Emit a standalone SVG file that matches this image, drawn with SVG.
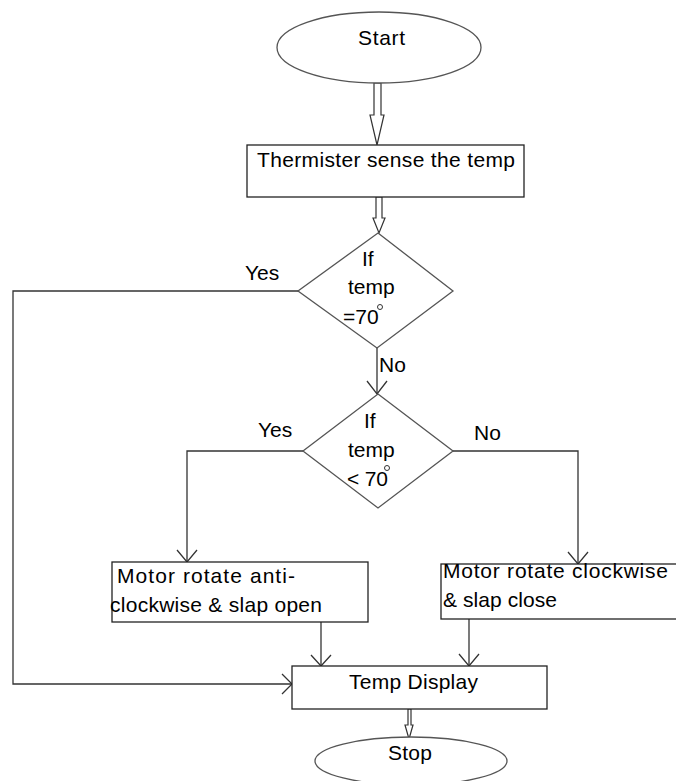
<svg xmlns="http://www.w3.org/2000/svg" width="676" height="781" viewBox="0 0 676 781">
<style>
.shape{fill:#fff;stroke:#555;stroke-width:1.3}
.box{fill:#fff;stroke:#222;stroke-width:1.3}
.line{fill:none;stroke:#333;stroke-width:1.3}
.hollow{fill:#fff;stroke:#333;stroke-width:1.2}
text{font-family:"Liberation Sans",Arial,sans-serif;font-size:21px;fill:#000}
</style>
<rect width="676" height="781" fill="#fff"/>
<g id="connectors">
<polygon class="hollow" points="374,83 381,83 381,115 384,115 377,145 370,115 374,115"/>
<polygon class="hollow" points="376,197 382,197 382,218 385,218 379,233 373,218 376,218"/>
<polygon class="hollow" points="408,709 411,709 411,725 413,725 409,739 405,725 408,725"/>
<polyline class="line" points="298,291 13,291 13,684 292,684"/>
<polyline class="line" points="282,674 292,684 282,694"/>
<line class="line" x1="377" y1="348" x2="377" y2="394"/>
<polyline class="line" points="367,381 377,394 387,381"/>
<polyline class="line" points="303,451 187,451 187,562"/>
<polyline class="line" points="177,550 187,562 197,550"/>
<polyline class="line" points="453,451 578,451 578,564"/>
<polyline class="line" points="568,552 578,564 588,552"/>
<line class="line" x1="321" y1="622" x2="321" y2="666"/>
<polyline class="line" points="311,655 321,666 331,655"/>
<line class="line" x1="469" y1="619" x2="469" y2="666"/>
<polyline class="line" points="459,654 469,666 479,654"/>
<text x="245" y="280">Yes</text>
<text x="379" y="372">No</text>
<text x="258" y="437">Yes</text>
<text x="474" y="440">No</text>
</g>
<g id="start">
<ellipse class="shape" cx="379" cy="47.5" rx="102" ry="35.5"/>
<text x="358" y="45" textLength="47">Start</text>
</g>
<g id="thermister">
<rect class="box" x="247" y="145" width="277" height="52"/>
<text x="257" y="167" textLength="258">Thermister sense the temp</text>
</g>
<g id="decision1">
<polygon class="shape" points="378,233 453,291 377,348 298,291"/>
<text x="362" y="266">If</text>
<text x="348" y="294">temp</text>
<text x="343" y="324">=70</text>
<circle cx="380" cy="307" r="2.5" fill="#fff" stroke="#333" stroke-width="1"/>
</g>
<g id="decision2">
<polygon class="shape" points="378,394 453,451 378,508 303,451"/>
<text x="364" y="428">If</text>
<text x="348" y="457">temp</text>
<text x="347" y="486" textLength="41">&lt; 70</text>
<circle cx="387" cy="468" r="2.5" fill="#fff" stroke="#333" stroke-width="1"/>
</g>
<g id="anticlockwise">
<rect class="box" x="112" y="562" width="256" height="60"/>
<text x="117" y="583" textLength="178">Motor rotate anti-</text>
<text x="110" y="612" textLength="212">clockwise &amp; slap open</text>
</g>
<g id="clockwise">
<rect class="box" x="441" y="564" width="240" height="55"/>
<text x="443" y="578" textLength="225">Motor rotate clockwise</text>
<text x="443" y="607" textLength="114">&amp; slap close</text>
</g>
<g id="display">
<rect class="box" x="292" y="666" width="255" height="43"/>
<text x="349" y="689" textLength="129">Temp Display</text>
</g>
<g id="stop">
<ellipse class="shape" cx="411" cy="761" rx="96" ry="24"/>
<text x="388" y="760" textLength="44">Stop</text>
</g>
</svg>
